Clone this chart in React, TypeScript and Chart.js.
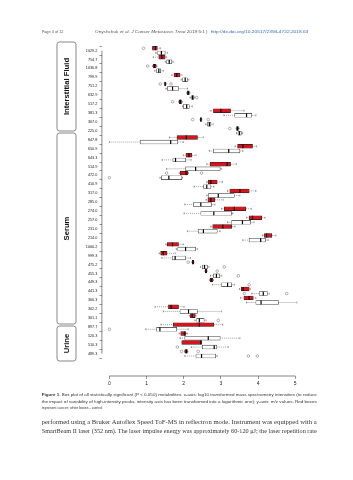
import React, { useEffect, useRef } from 'react';
import { Chart, registerables } from 'chart.js';

Chart.register(...registerables);

// m/z labels (top to bottom)
const mzLabels = [
  '1029.2', '754.7', '1036.8', '799.9', '751.2', '632.9', '517.2', '381.3', '307.0', '225.0',
  '847.8', '650.9', '643.3', '514.9', '472.0', '410.9', '317.0', '285.0', '274.0', '257.0', '231.0', '214.0',
  '1060.2', '999.3', '475.2', '455.3', '449.3', '441.3', '360.3', '302.2', '301.1',
  '897.7', '520.3', '510.3', '489.3',
];
const xTicks = [0, 1, 2, 3, 4, 5];

// Cancer (red boxes)
const cancerMin = [1.16, 1.18, 1.16, 1.68, 1.48, 2.08, 1.86, 2.73, 2.44, 3.41, 1.62, 3.38, 1.99, 2.62, 1.88, 2.62, 3.18, 2.60, 3.02, 3.69, 2.73, 4.12, 1.52, 1.34, 2.22, 2.57, 2.69, 3.50, 3.53, 1.23, 2.15, 1.39, 1.88, 1.95, 2.02];
const cancerQ1 = [1.16, 1.33, 1.18, 1.74, 1.49, 2.10, 1.88, 2.80, 2.45, 3.42, 1.82, 3.45, 2.06, 2.71, 1.91, 2.66, 3.24, 2.65, 3.09, 3.76, 2.78, 4.17, 1.56, 1.38, 2.23, 2.58, 2.71, 3.55, 3.62, 1.59, 2.18, 1.72, 1.92, 1.95, 2.03];
const cancerMed = [1.24, 1.41, 1.22, 1.81, 1.50, 2.12, 1.91, 3.00, 2.46, 3.45, 2.07, 3.59, 2.14, 3.17, 2.06, 2.73, 3.51, 2.73, 3.36, 3.85, 3.05, 4.23, 1.70, 1.45, 2.25, 2.60, 2.74, 3.60, 3.76, 1.66, 2.23, 2.42, 2.02, 2.46, 2.07];
const cancerQ3 = [1.29, 1.50, 1.26, 1.90, 1.52, 2.15, 1.94, 3.26, 2.48, 3.47, 2.37, 3.85, 2.22, 3.26, 2.11, 2.90, 3.76, 2.84, 3.67, 4.10, 3.29, 4.37, 1.86, 1.55, 2.27, 2.62, 2.78, 3.76, 3.87, 1.86, 2.31, 2.81, 2.06, 2.48, 2.10];
const cancerMax = [1.37, 1.54, 1.28, 1.95, 1.53, 2.17, 1.96, 3.62, 2.49, 3.49, 2.53, 3.96, 2.33, 3.42, 2.13, 3.04, 3.94, 3.06, 3.82, 4.19, 3.38, 4.48, 1.99, 1.77, 2.28, 2.63, 2.80, 3.79, 3.94, 2.01, 2.33, 3.05, 2.10, 2.48, 2.11];
const cancerOut: number[][] = [[0.92], [], [1.03], [], [1.37, 1.66], [], [1.70], [], [2.24, 2.66], [3.24], [], [], [], [], [1.54, 2.48], [], [], [], [], [], [], [], [], [], [2.12], [2.90], [], [], [], [], [], [], [], [], [1.94, 2.39]];

// Control (white boxes)
const controlMin = [1.25, 1.50, 1.22, 1.93, 1.52, 2.17, 1.97, 3.08, 2.59, 3.42, 0.00, 2.69, 1.42, 1.54, 1.36, 2.28, 2.62, 2.03, 2.01, 3.18, 2.10, 3.59, 1.80, 1.41, 2.45, 2.72, 2.77, 3.83, 3.69, 1.45, 2.30, 0.98, 1.90, 2.21, 2.03];
const controlQ1 = [1.30, 1.54, 1.27, 1.97, 1.56, 2.21, 1.99, 3.37, 2.64, 3.46, 0.83, 2.80, 1.71, 2.05, 1.40, 2.53, 2.66, 2.26, 2.46, 3.29, 2.39, 3.76, 1.84, 1.69, 2.50, 2.80, 3.02, 4.03, 3.94, 1.90, 2.35, 1.27, 2.03, 2.50, 2.33];
const controlMed = [1.40, 1.61, 1.33, 2.04, 1.70, 2.24, 2.08, 3.69, 2.69, 3.50, 1.65, 3.21, 1.78, 2.32, 1.60, 2.62, 2.93, 2.46, 2.81, 3.58, 2.53, 4.07, 2.05, 1.77, 2.56, 2.88, 3.18, 4.14, 4.08, 2.13, 2.42, 1.36, 2.66, 2.82, 2.48];
const controlQ3 = [1.50, 1.68, 1.38, 2.10, 1.86, 2.27, 2.15, 3.83, 2.73, 3.55, 1.84, 3.51, 2.05, 2.98, 1.95, 2.73, 3.36, 2.75, 3.29, 3.80, 2.90, 4.20, 2.32, 2.05, 2.64, 2.97, 3.29, 4.25, 4.55, 2.37, 2.55, 1.81, 2.98, 2.89, 2.86];
const controlMax = [1.56, 1.72, 1.45, 2.14, 2.10, 2.29, 2.23, 3.94, 2.79, 3.58, 1.99, 3.59, 2.20, 3.02, 1.97, 2.81, 3.51, 2.84, 3.32, 3.89, 2.98, 4.27, 2.37, 2.18, 2.68, 3.02, 3.36, 4.30, 5.04, 3.02, 2.60, 2.12, 3.51, 3.20, 2.90];
const controlOut: number[][] = [[], [], [], [], [], [2.35], [], [], [], [], [], [], [], [], [0.00], [], [], [], [], [], [], [], [], [], [3.09], [3.47], [3.76], [3.63, 4.77], [], [], [2.93], [0.00], [], [1.83], [3.74, 3.98]];

const OFF = 0.26;
const BOX_T = 3.8;
const RED = '#d9121b';

const groups = [
  { off: -OFF, min: cancerMin, q1: cancerQ1, med: cancerMed, q3: cancerQ3, max: cancerMax },
  { off: OFF, min: controlMin, q1: controlQ1, med: controlMed, q3: controlQ3, max: controlMax },
];

const boxPlugin = {
  id: 'boxExtras',
  beforeDatasetsDraw(chart: any) {
    const { ctx, scales } = chart;
    const x = scales.x, y = scales.y;
    ctx.save();
    ctx.strokeStyle = '#444';
    ctx.lineWidth = 0.5;
    groups.forEach((g) => {
      g.min.forEach((_, i) => {
        const yc = y.getPixelForValue(i + g.off);
        const pMin = x.getPixelForValue(g.min[i]);
        const pQ1 = x.getPixelForValue(g.q1[i]);
        const pQ3 = x.getPixelForValue(g.q3[i]);
        const pMax = x.getPixelForValue(g.max[i]);
        ctx.setLineDash([1, 1]);
        ctx.beginPath();
        ctx.moveTo(pMin, yc); ctx.lineTo(pQ1, yc);
        ctx.moveTo(pQ3, yc); ctx.lineTo(pMax, yc);
        ctx.stroke();
        ctx.setLineDash([]);
        ctx.beginPath();
        ctx.moveTo(pMin, yc - BOX_T / 4); ctx.lineTo(pMin, yc + BOX_T / 4);
        ctx.moveTo(pMax, yc - BOX_T / 4); ctx.lineTo(pMax, yc + BOX_T / 4);
        ctx.stroke();
      });
    });
    ctx.restore();
  },
  afterDatasetsDraw(chart: any) {
    const { ctx, scales, chartArea } = chart;
    const x = scales.x, y = scales.y;
    ctx.save();
    ctx.strokeStyle = '#000';
    ctx.lineWidth = 1.2;
    groups.forEach((g) => {
      g.med.forEach((m, i) => {
        const yc = y.getPixelForValue(i + g.off);
        const pm = x.getPixelForValue(m);
        ctx.beginPath();
        ctx.moveTo(pm, yc - BOX_T / 2); ctx.lineTo(pm, yc + BOX_T / 2);
        ctx.stroke();
      });
    });
    // R-style axis lines spanning first to last tick
    ctx.strokeStyle = '#333';
    ctx.lineWidth = 0.6;
    ctx.beginPath();
    ctx.moveTo(x.getPixelForValue(xTicks[0]), chartArea.bottom);
    ctx.lineTo(x.getPixelForValue(xTicks[xTicks.length - 1]), chartArea.bottom);
    ctx.moveTo(chartArea.left, y.getPixelForValue(0));
    ctx.lineTo(chartArea.left, y.getPixelForValue(mzLabels.length - 1));
    ctx.stroke();
    ctx.restore();
  },
};

const outPoints = (outs: number[][], off: number) =>
  outs.flatMap((vals, i) => vals.map((v) => ({ x: v, y: i + off })));

function BoxChart() {
  const ref = useRef<HTMLCanvasElement | null>(null);
  useEffect(() => {
    if (!ref.current) return;
    const chart = new Chart(ref.current, {
      type: 'bar',
      data: {
        datasets: [
          {
            label: 'Cancer',
            data: mzLabels.map((_, i) => ({ y: i - OFF, x: [cancerQ1[i], cancerQ3[i]] })) as any,
            backgroundColor: RED,
            borderColor: '#222',
            borderWidth: 0.6,
            borderSkipped: false,
            grouped: false,
            barThickness: BOX_T,
            maxBarThickness: BOX_T,
          } as any,
          {
            label: 'Control',
            data: mzLabels.map((_, i) => ({ y: i + OFF, x: [controlQ1[i], controlQ3[i]] })) as any,
            backgroundColor: '#ffffff',
            borderColor: '#333',
            borderWidth: 0.6,
            borderSkipped: false,
            grouped: false,
            barThickness: BOX_T,
            maxBarThickness: BOX_T,
          } as any,
          {
            type: 'scatter',
            label: 'Cancer outliers',
            data: outPoints(cancerOut, -OFF),
            pointStyle: 'circle',
            pointRadius: 1.3,
            borderWidth: 0.5,
            borderColor: '#666',
            backgroundColor: 'rgba(0,0,0,0)',
          } as any,
          {
            type: 'scatter',
            label: 'Control outliers',
            data: outPoints(controlOut, OFF),
            pointStyle: 'circle',
            pointRadius: 1.3,
            borderWidth: 0.5,
            borderColor: '#666',
            backgroundColor: 'rgba(0,0,0,0)',
          } as any,
        ],
      },
      options: {
        indexAxis: 'y',
        animation: false,
        responsive: false,
        events: [],
        layout: { padding: { left: 0, right: 50.3, top: 38, bottom: 0 } },
        plugins: { legend: { display: false }, tooltip: { enabled: false } },
        scales: {
          x: {
            type: 'linear',
            position: 'bottom',
            min: -0.2,
            max: 5.2,
            afterFit: (s: any) => { s.height = 104; },
            afterBuildTicks: (s: any) => { s.ticks = xTicks.map((v) => ({ value: v })); },
            ticks: {
              autoSkip: false,
              maxRotation: 0,
              padding: 1.5,
              color: '#222',
              font: { family: 'Liberation Sans, Arial, sans-serif', size: 5 },
            },
            grid: { drawOnChartArea: false, tickLength: 3, color: '#333', lineWidth: 0.5 },
            border: { display: false },
          },
          y: {
            type: 'linear',
            reverse: true,
            min: -0.8718,
            max: 35.962,
            afterFit: (s: any) => { s.width = 101.9; },
            afterBuildTicks: (s: any) => { s.ticks = mzLabels.map((_, i) => ({ value: i })); },
            ticks: {
              autoSkip: false,
              padding: 2,
              color: '#222',
              font: { family: 'Liberation Sans, Arial, sans-serif', size: 3.8 },
              callback: (v: any) => mzLabels[Math.round(Number(v))],
            },
            grid: { drawOnChartArea: false, tickLength: 2.5, color: '#333', lineWidth: 0.5 },
            border: { display: false },
          },
        },
      } as any,
      plugins: [boxPlugin],
    });
    return () => chart.destroy();
  }, []);
  return (
    <canvas
      ref={ref}
      width={353}
      height={480}
      style={{ position: 'absolute', left: 0, top: 0, width: 353, height: 480 }}
    />
  );
}

const sans = 'Liberation Sans, Arial, Helvetica, sans-serif';
const serif = 'Liberation Serif, Times New Roman, serif';

export default function App() {
  return (
    <div style={{ position: 'absolute', left: 0, top: 0, width: 353, height: 480, background: '#fff', overflow: 'hidden' }}>
      <BoxChart />
      <svg width={353} height={480} style={{ position: 'absolute', left: 0, top: 0 }}>
        {/* running header */}
        <text x={41.7} y={33.2} fontFamily={sans} fontSize={4.2} fill="#555" textLength={21.7} lengthAdjust="spacingAndGlyphs">Page 4 of 12</text>
        <text x={95} y={33.2} fontFamily={sans} fontSize={4.2} fill="#555" textLength={112.5} lengthAdjust="spacingAndGlyphs">
          Onyshchuk <tspan fontStyle="italic">et al</tspan>. <tspan fontStyle="italic">J Cancer Metastasis Treat</tspan> 2019;5:1  |  
        </text>
        <text x={210.7} y={33.2} fontFamily={sans} fontSize={4.2} fill="#2a6ebb" textLength={97.6} lengthAdjust="spacingAndGlyphs">http://dx.doi.org/10.20517/2394-4722.2018.63</text>

        {/* group labels */}
        <rect x={57} y={42} width={19} height={89} rx={2.5} fill="none" stroke="#555" strokeWidth={0.7} />
        <text transform="translate(66.5,86.5) rotate(-90)" textAnchor="middle" dominantBaseline="central" fontFamily={sans} fontWeight="bold" fontSize={7.7} fill="#111">Interstitial Fluid</text>
        <rect x={57} y={133} width={19} height={191} rx={2.5} fill="none" stroke="#555" strokeWidth={0.7} />
        <text transform="translate(66.5,228.5) rotate(-90)" textAnchor="middle" dominantBaseline="central" fontFamily={sans} fontWeight="bold" fontSize={7.7} fill="#111">Serum</text>
        <rect x={57} y={326} width={19} height={35} rx={2.5} fill="none" stroke="#555" strokeWidth={0.7} />
        <text transform="translate(66.5,343.5) rotate(-90)" textAnchor="middle" dominantBaseline="central" fontFamily={sans} fontWeight="bold" fontSize={7.7} fill="#111">Urine</text>

        {/* caption */}
        <text x={41.7} y={396.1} fontFamily={sans} fontSize={4} fill="#333" textLength={275} lengthAdjust="spacingAndGlyphs">
          <tspan fontWeight="bold">Figure 1.</tspan> Box plot of all statistically significant (P {'<'} 0.050) metabolites. x-axis: log10 transformed mass spectrometry intensities (to reduce
        </text>
        <text x={41.7} y={402.7} fontFamily={sans} fontSize={4} fill="#333" textLength={275} lengthAdjust="spacingAndGlyphs">
          the impact of variability of high-intensity peaks, intensity axis has been transformed into a logarithmic one); y-axis: m/z values. Red boxes
        </text>
        <text x={41.7} y={409.4} fontFamily={sans} fontSize={4} fill="#333" textLength={60.5} lengthAdjust="spacingAndGlyphs">
          represent cancer; white boxes - control
        </text>

        {/* body text */}
        <text x={41.7} y={424} fontFamily={serif} fontSize={6.6} fill="#333" textLength={275} lengthAdjust="spacingAndGlyphs">
          performed using a Bruker Autoflex Speed ToF-MS in reflectron mode. Instrument was equipped with a
        </text>
        <text x={41.7} y={433} fontFamily={serif} fontSize={6.6} fill="#333" textLength={275} lengthAdjust="spacingAndGlyphs">
          SmartBeam II laser (352 nm). The laser impulse energy was approximately 60-120 μJ; the laser repetition rate
        </text>
      </svg>
    </div>
  );
}
